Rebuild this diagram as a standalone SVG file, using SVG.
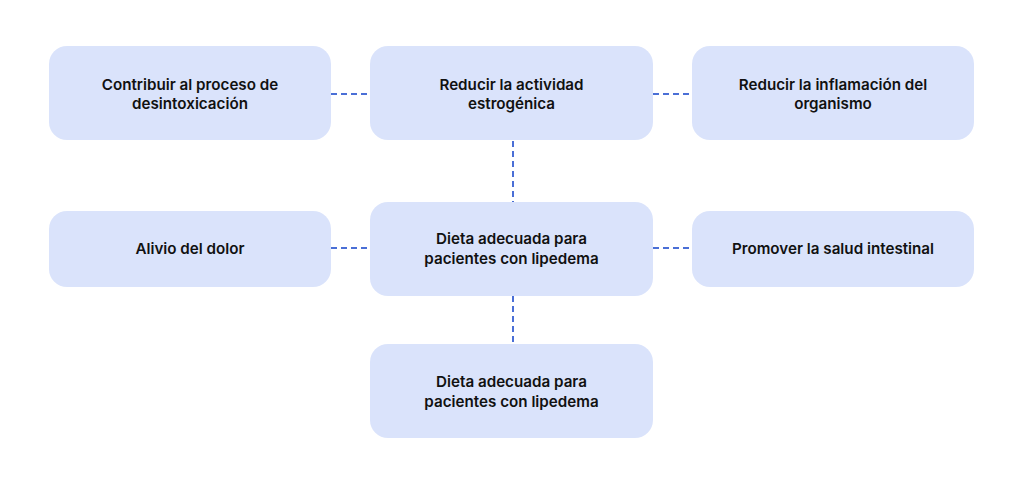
<svg xmlns="http://www.w3.org/2000/svg" width="1024" height="485" viewBox="0 0 1024 485">
<style>
.box{fill:#dae3fb}
.t{font-family:Inter,"Noto Sans","Liberation Sans",sans-serif;font-weight:600;font-size:15.2px;fill:#111;text-anchor:middle}
.c{stroke:#4a6fd6;stroke-width:2;stroke-dasharray:6 4;fill:none}
</style>
<rect width="1024" height="485" fill="#fff"/>
<g id="connectors">
<line class="c" x1="331" y1="94" x2="370" y2="94"/>
<line class="c" x1="653" y1="94" x2="692" y2="94"/>
<line class="c" x1="331" y1="248" x2="370" y2="248"/>
<line class="c" x1="653" y1="248" x2="692" y2="248"/>
<line class="c" x1="513" y1="141" x2="513" y2="202"/>
<line class="c" x1="513" y1="296" x2="513" y2="344"/>
</g>
<g id="n1"><rect class="box" x="49" y="46" width="282" height="94" rx="18"/>
<text class="t" x="190" y="90">Contribuir al proceso de</text><text class="t" x="190" y="109">desintoxicación</text></g>
<g id="n2"><rect class="box" x="370" y="46" width="283" height="94" rx="18"/>
<text class="t" x="511.5" y="90">Reducir la actividad</text><text class="t" x="511.5" y="109">estrogénica</text></g>
<g id="n3"><rect class="box" x="692" y="46" width="282" height="94" rx="18"/>
<text class="t" x="833" y="90">Reducir la inflamación del</text><text class="t" x="833" y="109">organismo</text></g>
<g id="n4"><rect class="box" x="49" y="211" width="282" height="76" rx="18"/>
<text class="t" x="190" y="254">Alivio del dolor</text></g>
<g id="n5"><rect class="box" x="370" y="202" width="283" height="94" rx="18"/>
<text class="t" x="511.5" y="244">Dieta adecuada para</text><text class="t" x="511.5" y="264">pacientes con lipedema</text></g>
<g id="n6"><rect class="box" x="692" y="211" width="282" height="76" rx="18"/>
<text class="t" x="833" y="254">Promover la salud intestinal</text></g>
<g id="n7"><rect class="box" x="370" y="344" width="283" height="94" rx="18"/>
<text class="t" x="511.5" y="387">Dieta adecuada para</text><text class="t" x="511.5" y="407">pacientes con lipedema</text></g>
</svg>
